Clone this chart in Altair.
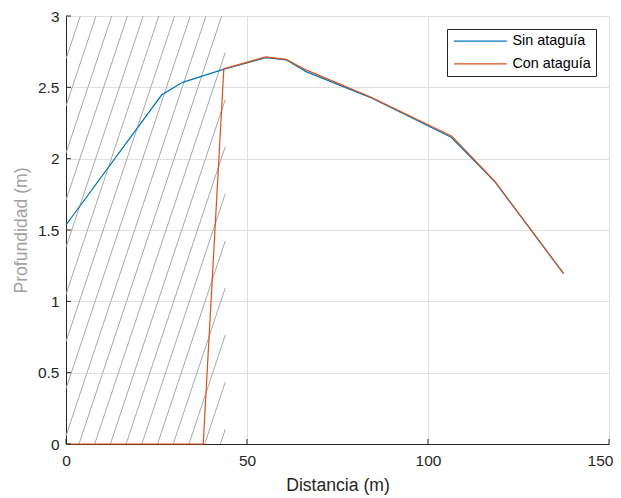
import altair as alt
import pandas as pd
import numpy as np

# ---- data ----
series_names = ["Sin ataguía", "Con ataguía"]
series_colors = ["#0072BD", "#D95319"]

x_sin = [0.0, 26.4, 32.2, 43.7, 55.2, 60.8, 66.3, 84.0, 106.4, 118.5, 137.4]
y_sin = [1.535, 2.446, 2.535, 2.628, 2.708, 2.693, 2.610, 2.430, 2.150, 1.838, 1.196]

x_con = [0.0, 37.9, 43.6, 44.5, 55.2, 60.8, 66.3, 84.0, 106.6, 118.5, 137.4]
y_con = [0.0, 0.0, 2.630, 2.636, 2.714, 2.696, 2.622, 2.434, 2.158, 1.840, 1.196]

x_ticks = [0, 50, 100, 150]
y_ticks = [0, 0.5, 1, 1.5, 2, 2.5, 3]

# hatch pattern parameters (data units)
hatch_xmax = 44.0
hatch_slope = 0.0761      # m of depth per m of distance
hatch_step = 4.34         # horizontal spacing at the top edge
hatch_first_top = 3.95    # where the first line meets y=3

W, H = 543, 428
XMAX, YMAX = 150, 3

# ---- tables ----
rows = []
for n, xs, ys in [(series_names[0], x_sin, y_sin), (series_names[1], x_con, y_con)]:
    for i, (a, b) in enumerate(zip(xs, ys)):
        rows.append({"serie": n, "x": a, "y": b, "o": i})
df = pd.DataFrame(rows)

h = []
t = hatch_first_top
run = YMAX / hatch_slope
while t - run < hatch_xmax:
    c = t - run
    xs0 = max(0.0, c)
    xs1 = min(hatch_xmax, t)
    if xs1 > xs0:
        h.append({"x": xs0, "y": hatch_slope * (xs0 - c),
                  "x1": xs1, "y1": hatch_slope * (xs1 - c)})
    t += hatch_step
dh = pd.DataFrame(h)

xsc = alt.Scale(domain=[0, XMAX], nice=False, zero=False)
ysc = alt.Scale(domain=[0, YMAX], nice=False, zero=False)

xaxis = alt.Axis(values=x_ticks, title="Distancia (m)", grid=True, labelPadding=9,
                 titlePadding=8, tickSize=0, labelFlush=False, format="~r",
                 labelOffset={"condition": {"test": "datum.value == 150", "value": -9},
                              "value": 0})
yaxis = alt.Axis(values=y_ticks, title="Profundidad (m)", grid=True, labelPadding=7,
                 titlePadding=7, tickSize=0, titleColor="#a0a0a0", format="~r")

X = alt.X("x:Q", scale=xsc, axis=xaxis)
Y = alt.Y("y:Q", scale=ysc, axis=yaxis)

hatch = alt.Chart(dh).mark_rule(color="#a8a8a8", strokeWidth=1, clip=True).encode(
    x=X, x2="x1:Q", y=Y, y2="y1:Q",
)

color = alt.Color(
    "serie:N",
    scale=alt.Scale(domain=series_names, range=series_colors),
    sort=series_names,
    legend=alt.Legend(
        title=None, orient="none", legendX=381, legendY=13,
        symbolType="M-1,0H9", symbolSize=112, symbolStrokeWidth=1.2,
        labelFontSize=14.4, labelFont="Liberation Sans", labelColor="#000000",
        strokeColor="#262626", fillColor="white", padding=5, rowPadding=7.6,
        labelOffset=46, cornerRadius=0,
    ),
)

line_sin = alt.Chart(df).transform_filter(alt.datum.serie == series_names[0]).mark_line(
    strokeWidth=1.2).encode(x=X, y=Y, color=color, order="o:Q")
line_con = alt.Chart(df).transform_filter(alt.datum.serie == series_names[1]).mark_line(
    strokeWidth=1.2).encode(x=X, y=Y, color=color, order="o:Q")

xt = alt.Chart(pd.DataFrame({"x": x_ticks})).mark_rule(color="#262626").encode(
    x=X, y=alt.value(H), y2=alt.value(H - 5))
yt = alt.Chart(pd.DataFrame({"y": y_ticks})).mark_rule(color="#262626").encode(
    y=Y, x=alt.value(0), x2=alt.value(5))

chart = alt.layer(hatch, line_sin, line_con, xt, yt).properties(
    width=W, height=H,
    autosize=alt.AutoSizeParams(type="none"),
    padding={"left": 58, "top": 8, "right": 4, "bottom": 54},
).configure_view(stroke=None).configure_axis(
    labelFont="Liberation Sans", labelFontSize=15.5, labelColor="#262626",
    titleFont="Liberation Sans", titleFontSize=17.6, titleFontWeight="normal",
    titleColor="#262626", domainColor="#262626", domainWidth=1,
    gridColor="#dfdfdf", gridWidth=1,
)

chart.save("out.html", embed_options={"renderer": "svg", "actions": False})
